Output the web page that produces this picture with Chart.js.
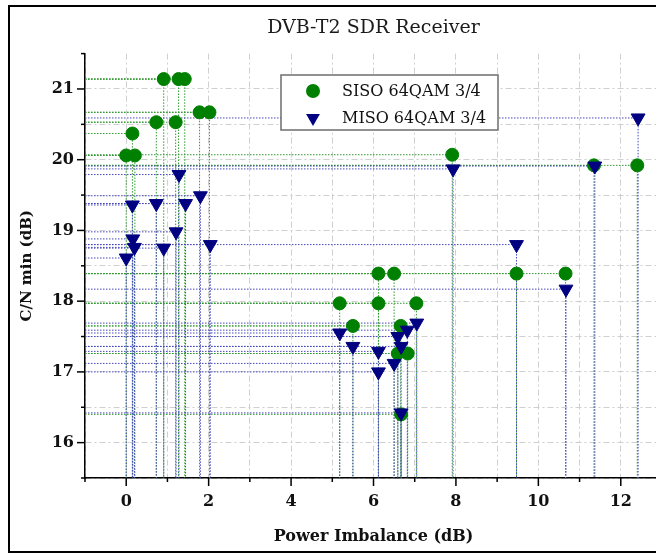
<!DOCTYPE html>
<html>
<head>
<meta charset="utf-8">
<script src="https://cdn.jsdelivr.net/npm/chart.js@4.4.1/dist/chart.umd.min.js"></script>
<style>
    html, body { margin: 0; padding: 0; background: #fff; overflow: hidden; }
    #wrap { position: relative; width: 656px; height: 554px; overflow: hidden; }
    #chart { position: absolute; left: 0; top: 0; }
    #frame {
        position: absolute; left: 8px; top: 5px;
        width: 720px; height: 544px;
        border: 2px solid #000; pointer-events: none;
    }
</style>
</head>
<body>
<div id="wrap">
    <canvas id="chart" width="720" height="554"></canvas>
    <div id="frame"></div>
</div>
<script>
// ================= DATA =================
const sisoX = [0.91, 1.27, 1.42, 0.73, 1.20, 1.78, 2.02, 0.15, 0.00, 0.21,
               6.12, 6.50, 5.18, 6.12, 7.04, 5.50, 6.66, 6.59, 6.83, 6.67,
               7.91, 9.47, 10.66, 11.35, 12.40];
const sisoY = [21.14, 21.14, 21.14, 20.53, 20.53, 20.67, 20.67, 20.37, 20.06, 20.06,
               18.39, 18.39, 17.97, 17.97, 17.97, 17.65, 17.65, 17.26, 17.26, 16.40,
               20.07, 18.39, 18.39, 19.92, 19.92];

const misoX = [1.28, 0.15, 0.73, 1.44, 1.80, 1.21, 0.16, 0.20, 0.91, 2.04, 0.00,
               5.18, 5.50, 6.12, 6.12, 6.50, 6.59, 6.67, 6.82, 7.05, 6.67,
               7.93, 9.47, 10.67, 11.37, 12.42];
const misoY = [19.79, 19.36, 19.38, 19.38, 19.49, 18.98, 18.88, 18.76, 18.75, 18.80, 18.61,
               17.55, 17.36, 17.29, 17.00, 17.12, 17.50, 17.36, 17.59, 17.69, 16.42,
               19.87, 18.80, 18.17, 19.91, 20.59];

const seriesNames = ["SISO 64QAM 3/4", "MISO 64QAM 3/4"];
const xTickLabels = [0, 2, 4, 6, 8, 10, 12];
const yTickLabels = [16, 17, 18, 19, 20, 21];

const SERIF = "'DejaVu Serif', serif";

function toPoints(xs, ys) {
    return xs.map((x, i) => ({ x: x, y: ys[i] }));
}


// ================= DROP LINES =================
// dotted lines from every point to the left and bottom axes
const dropLines = {
    id: "dropLines",
    beforeDatasetsDraw(chart) {
        const { ctx, chartArea } = chart;
        ctx.save();
        ctx.beginPath();
        ctx.rect(chartArea.left, chartArea.top, chartArea.right - chartArea.left, chartArea.bottom - chartArea.top);
        ctx.clip();
        ctx.lineWidth = 1;
        ctx.setLineDash([1.5, 1.5]);

        chart.data.datasets.forEach((ds, i) => {
            const meta = chart.getDatasetMeta(i);
            ctx.strokeStyle = ds.dropColor;
            meta.data.forEach(pt => {
                ctx.beginPath();
                ctx.moveTo(chartArea.left, pt.y);
                ctx.lineTo(pt.x, pt.y);
                ctx.lineTo(pt.x, chartArea.bottom);
                ctx.stroke();
            });
        });

        ctx.restore();
    }
};


// ================= AXIS TICKS =================
const axisTicks = {
    id: "axisTicks",
    afterDraw(chart) {
        const { ctx, chartArea, scales } = chart;
        ctx.save();
        ctx.strokeStyle = "#000";
        ctx.lineWidth = 1.5;

        scales.x.ticks.forEach(t => {
            const px = scales.x.getPixelForValue(t.value);
            const len = xTickLabels.includes(t.value) ? 8 : 4;
            ctx.beginPath();
            ctx.moveTo(px, chartArea.bottom);
            ctx.lineTo(px, chartArea.bottom + len);
            ctx.stroke();
        });

        scales.y.ticks.forEach(t => {
            const py = scales.y.getPixelForValue(t.value);
            const len = yTickLabels.includes(t.value) ? 8 : 4;
            ctx.beginPath();
            ctx.moveTo(chartArea.left, py);
            ctx.lineTo(chartArea.left - len, py);
            ctx.stroke();
        });

        ctx.restore();
    }
};


// ================= LEGEND BOX =================
const legendBox = {
    id: "legendBox",
    afterDraw(chart) {
        const { ctx } = chart;
        const box = { x: 281, y: 75, w: 217, h: 55 };

        ctx.save();
        ctx.fillStyle = "#fff";
        ctx.fillRect(box.x, box.y, box.w, box.h);
        ctx.strokeStyle = "#6e6e6e";
        ctx.lineWidth = 1.5;
        ctx.strokeRect(box.x, box.y, box.w, box.h);

        ctx.font = "16px " + SERIF;
        ctx.textBaseline = "middle";
        ctx.textAlign = "left";

        chart.data.datasets.forEach((ds, i) => {
            const cy = box.y + 16 + i * 27;
            const cx = box.x + 32;
            ctx.fillStyle = ds.backgroundColor;
            ctx.beginPath();
            if (ds.pointStyle === "triangle") {
                const r = ds.pointRadius;
                ctx.moveTo(cx, cy + r);
                ctx.lineTo(cx - r * 0.866, cy - r / 2);
                ctx.lineTo(cx + r * 0.866, cy - r / 2);
                ctx.closePath();
            } else {
                ctx.arc(cx, cy, ds.pointRadius + 0.5, 0, Math.PI * 2);
            }
            ctx.fill();

            ctx.fillStyle = "#111";
            ctx.fillText(ds.label, box.x + 61, cy + 1);
        });

        ctx.restore();
    }
};


// ================= CHART =================
new Chart(document.getElementById("chart"), {
    type: "scatter",
    data: {
        datasets: [
            {
                label: seriesNames[0],
                data: toPoints(sisoX, sisoY),
                pointStyle: "circle",
                pointRadius: 6.5,
                pointBorderWidth: 1,
                backgroundColor: "#008000",
                borderColor: "#008000",
                dropColor: "#2f9a2f",
                order: 1
            },
            {
                label: seriesNames[1],
                data: toPoints(misoX, misoY),
                pointStyle: "triangle",
                pointRotation: 180,
                pointRadius: 8,
                pointBorderWidth: 1,
                backgroundColor: "#000080",
                borderColor: "#000080",
                dropColor: "#4747bd",
                order: 0
            }
        ]
    },
    options: {
        responsive: false,
        animation: false,
        layout: { padding: { left: 0, right: 58, top: 0, bottom: 0 } },
        plugins: {
            legend: { display: false },
            tooltip: { enabled: false },
            title: {
                display: true,
                text: "DVB-T2 SDR Receiver",
                fullSize: false,
                color: "#1a1a1a",
                font: { family: SERIF, size: 19, weight: "normal" },
                padding: { top: 16.6, bottom: 14.2 }
            }
        },
        scales: {
            x: {
                type: "linear",
                min: -1,
                max: 13,
                afterFit: scale => { scale.height = 76; },
                ticks: {
                    stepSize: 1,
                    autoSkip: false,
                    maxRotation: 0,
                    padding: 14,
                    color: "#111",
                    font: { family: SERIF, size: 16, weight: "bold" },
                    callback: v => xTickLabels.includes(v) ? String(v) : ""
                },
                grid: {
                    color: "#cfcfcf",
                    lineWidth: 1,
                    drawTicks: false
                },
                border: { color: "#000", width: 1.5, dash: [6, 3, 2, 3] },
                title: {
                    display: true,
                    text: "Power Imbalance (dB)",
                    color: "#111",
                    font: { family: SERIF, size: 16, weight: "bold" },
                    padding: { top: 0, bottom: 8 }
                }
            },
            y: {
                type: "linear",
                min: 15.5,
                max: 21.5,
                afterFit: scale => { scale.width = 85; },
                ticks: {
                    stepSize: 0.5,
                    autoSkip: false,
                    padding: 11,
                    color: "#111",
                    font: { family: SERIF, size: 16, weight: "bold" },
                    callback: v => yTickLabels.includes(v) ? String(v) : ""
                },
                grid: {
                    color: ctx => ctx.tick && ctx.tick.value === 21.5 ? "rgba(0,0,0,0)" : "#cfcfcf",
                    lineWidth: 1,
                    drawTicks: false
                },
                border: { color: "#000", width: 1.5, dash: [6, 3, 2, 3] },
                title: {
                    display: true,
                    text: "C/N min (dB)",
                    color: "#111",
                    font: { family: SERIF, size: 15, weight: "bold" },
                    padding: { top: 18.5, bottom: 0 }
                }
            }
        }
    },
    plugins: [dropLines, axisTicks, legendBox]
});
</script>
</body>
</html>
